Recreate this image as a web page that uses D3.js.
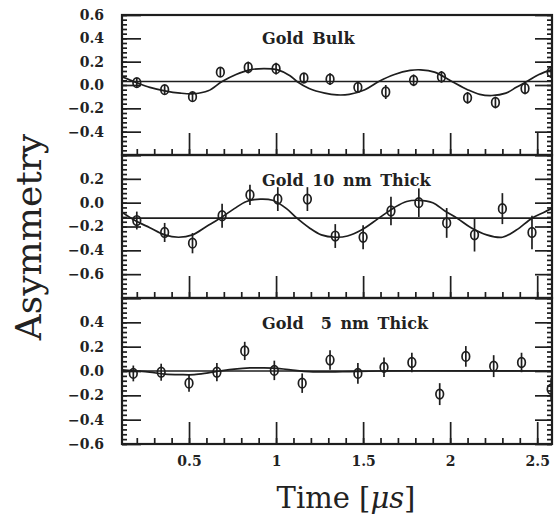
<!DOCTYPE html>
<html><head><meta charset="utf-8">
<script src="https://cdn.jsdelivr.net/npm/d3@7/dist/d3.min.js"></script>
<style>
html,body{margin:0;padding:0;background:#fff;}
svg{display:block;}
text{font-family:"DejaVu Serif",serif;fill:#222;}
</style></head>
<body><svg id="c" width="560" height="519"></svg>
<script>
// ---------------- DATA ----------------
const xTickLabels = [0.5, 1, 1.5, 2, 2.5];

// Gold Bulk
const timeBulk  = [0.20,0.36,0.52,0.68,0.84,1.00,1.16,1.31,1.47,1.63,1.79,1.95,2.10,2.26,2.43,2.58];
const asymBulk  = [0.02,-0.04,-0.10,0.11,0.15,0.14,0.06,0.05,-0.02,-0.06,0.04,0.07,-0.11,-0.15,-0.03,0.11];
const errBulk   = [0.04,0.04,0.04,0.04,0.05,0.05,0.04,0.05,0.04,0.06,0.05,0.05,0.05,0.05,0.05,0.05];
const fitTimeBulk = [0.115,0.20,0.275,0.36,0.45,0.53,0.61,0.69,0.77,0.85,0.93,1.01,1.08,1.12,1.19,1.28,1.35,1.42,1.51,1.59,1.68,1.77,1.83,1.91,2.01,2.10,2.17,2.24,2.32,2.38,2.44,2.51,2.58];
const fitBulk     = [0.07,0.02,-0.02,-0.05,-0.07,-0.075,-0.05,0.03,0.09,0.13,0.14,0.13,0.08,0.03,-0.03,-0.07,-0.085,-0.08,-0.04,0.03,0.09,0.125,0.13,0.11,0.03,-0.04,-0.08,-0.09,-0.07,-0.02,0.03,0.09,0.13];
const baseBulk = 0.03;

// Gold 10 nm
const time10 = [0.20,0.36,0.52,0.69,0.85,1.01,1.18,1.34,1.50,1.66,1.82,1.98,2.14,2.30,2.47];
const asym10 = [-0.15,-0.25,-0.34,-0.11,0.065,0.03,0.03,-0.28,-0.29,-0.07,0.0,-0.17,-0.27,-0.05,-0.25];
const err10  = [0.075,0.08,0.085,0.10,0.085,0.10,0.10,0.10,0.10,0.12,0.12,0.125,0.14,0.13,0.14];
const fitTime10 = [0.115,0.19,0.275,0.36,0.44,0.52,0.60,0.68,0.76,0.83,0.91,0.98,1.06,1.12,1.19,1.26,1.34,1.41,1.49,1.59,1.68,1.75,1.82,1.90,1.97,2.04,2.12,2.21,2.30,2.38,2.47,2.54,2.58];
const fit10     = [-0.08,-0.15,-0.21,-0.27,-0.29,-0.27,-0.20,-0.13,-0.05,0.01,0.03,0.02,-0.05,-0.13,-0.21,-0.27,-0.29,-0.28,-0.23,-0.13,-0.04,0.01,0.02,0.0,-0.07,-0.13,-0.21,-0.27,-0.29,-0.23,-0.13,-0.08,-0.05];
const base10 = -0.13;

// Gold 5 nm
const time5 = [0.18,0.34,0.50,0.66,0.82,0.99,1.15,1.31,1.47,1.62,1.78,1.94,2.09,2.25,2.41,2.58];
const asym5 = [-0.02,-0.01,-0.10,-0.01,0.165,0.005,-0.10,0.09,-0.02,0.03,0.07,-0.19,0.12,0.04,0.07,-0.15];
const err5  = [0.065,0.07,0.07,0.075,0.075,0.08,0.08,0.08,0.085,0.08,0.08,0.09,0.085,0.09,0.08,0.09];
const fitTime5 = [0.115,0.20,0.275,0.36,0.45,0.53,0.61,0.68,0.76,0.85,0.93,1.02,1.11,1.19,1.31,1.42,1.59,1.82,2.58];
const fit5     = [0.01,0.0,-0.01,-0.025,-0.03,-0.03,-0.015,0.0,0.015,0.025,0.025,0.02,0.005,-0.005,-0.008,-0.005,0.0,0.002,0.0];
const base5 = 0.0;

const titles = ["Gold Bulk", "Gold 10 nm Thick", "Gold  5 nm Thick"];
const yLabels1 = [0.6,0.4,0.2,0.0,-0.2,-0.4];
const yLabels2 = [0.2,0.0,-0.2,-0.4,-0.6];
const yLabels3 = [0.4,0.2,0.0,-0.2,-0.4,-0.6];

// ---------------- LAYOUT ----------------
const L = 122, R = 552;
const ink = "#1e1e1e";
const svg = d3.select("#c");
const x = d3.scaleLinear().domain([0.115, 2.585]).range([L, R]);

const panels = [
  {top:15,  bottom:155, dom:[-0.6,0.6], labels:yLabels1, t:timeBulk, a:asymBulk, e:errBulk, ft:fitTimeBulk, f:fitBulk, base:baseBulk, title:titles[0], ty:44},
  {top:155, bottom:298, dom:[-0.8,0.4], labels:yLabels2, t:time10, a:asym10, e:err10, ft:fitTime10, f:fit10, base:base10, title:titles[1], ty:186},
  {top:298, bottom:444, dom:[-0.6,0.6], labels:yLabels3, t:time5, a:asym5, e:err5, ft:fitTime5, f:fit5, base:base5, title:titles[2], ty:329}
];

const fmt = d => d3.format(".1f")(d);
const xMinor = d3.range(0.2, 2.551, 0.1);

panels.forEach((p, i) => {
  const y = d3.scaleLinear().domain(p.dom).range([p.bottom, p.top]);
  const g = svg.append("g");
  const clipId = "clip" + i;
  svg.append("clipPath").attr("id", clipId).append("rect")
    .attr("x", L).attr("y", p.top).attr("width", R - L).attr("height", p.bottom - p.top);

  const yMinor = d3.range(p.dom[0], p.dom[1] + 1e-6, 0.04);
  const yMajor = d3.range(p.dom[0], p.dom[1] + 1e-6, 0.2);

  const styleAxis = s => { s.select(".domain").remove(); s.selectAll("line").attr("stroke", ink).attr("stroke-width", 1.7); s.selectAll("text").remove(); };

  // left ticks (inward)
  g.append("g").attr("transform", `translate(${L},0)`).call(d3.axisRight(y).tickValues(yMinor).tickSize(5)).call(styleAxis);
  g.append("g").attr("transform", `translate(${L},0)`).call(d3.axisRight(y).tickValues(yMajor).tickSize(19)).call(styleAxis);
  // right ticks (inward)
  g.append("g").attr("transform", `translate(${R},0)`).call(d3.axisLeft(y).tickValues(yMinor).tickSize(5)).call(styleAxis);
  g.append("g").attr("transform", `translate(${R},0)`).call(d3.axisLeft(y).tickValues(yMajor).tickSize(17)).call(styleAxis);
  // bottom ticks (upward)
  g.append("g").attr("transform", `translate(0,${p.bottom})`).call(d3.axisTop(x).tickValues(xMinor).tickSize(6)).call(styleAxis);
  g.append("g").attr("transform", `translate(0,${p.bottom})`).call(d3.axisTop(x).tickValues(xTickLabels).tickSize(22)).call(styleAxis);

  // y tick labels
  const yl = g.append("g").attr("transform", `translate(${L},0)`)
    .call(d3.axisLeft(y).tickValues(p.labels).tickSize(0).tickPadding(18).tickFormat(fmt));
  yl.select(".domain").remove();
  yl.selectAll("text").attr("font-family", "DejaVu Serif").attr("font-weight", "bold").attr("font-size", 14).attr("fill", ink);

  // frame
  g.append("rect").attr("x", L).attr("y", p.top).attr("width", R - L).attr("height", p.bottom - p.top)
    .attr("fill", "none").attr("stroke", ink).attr("stroke-width", 2.2);

  const plot = g.append("g").attr("clip-path", `url(#${clipId})`);
  // baseline
  plot.append("line").attr("x1", L).attr("x2", R).attr("y1", y(p.base)).attr("y2", y(p.base))
    .attr("stroke", ink).attr("stroke-width", 1.7);
  // fit curve
  const line = d3.line().x(d => x(d[0])).y(d => y(d[1])).curve(d3.curveCatmullRom);
  plot.append("path").attr("d", line(p.ft.map((t, k) => [t, p.f[k]])))
    .attr("fill", "none").attr("stroke", ink).attr("stroke-width", 1.7);
  // points
  const pts = plot.selectAll("g.pt").data(p.t.map((t, k) => ({t, a:p.a[k], e:p.e[k]}))).enter().append("g");
  pts.append("line").attr("x1", d => x(d.t)).attr("x2", d => x(d.t))
    .attr("y1", d => y(d.a - d.e)).attr("y2", d => y(d.a + d.e)).attr("stroke", ink).attr("stroke-width", 1.7);
  pts.append("ellipse").attr("cx", d => x(d.t)).attr("cy", d => y(d.a)).attr("rx", 3.8).attr("ry", 4.8)
    .attr("fill", "none").attr("stroke", ink).attr("stroke-width", 1.7);

  // title
  g.append("text").attr("x", 262).attr("y", p.ty).attr("font-size", 16).attr("font-weight", "bold")
    .attr("word-spacing", 3).style("white-space", "pre").text(p.title);
});

// x tick labels
const xl = svg.append("g").attr("transform", `translate(0,444)`)
  .call(d3.axisBottom(x).tickValues(xTickLabels).tickSize(0).tickPadding(12).tickFormat(d => String(d)));
xl.select(".domain").remove();
xl.selectAll("text").attr("font-family", "DejaVu Serif").attr("font-weight", "bold").attr("font-size", 14).attr("fill", ink);

// axis titles
svg.append("text").attr("transform", "translate(41,237) rotate(-90)").attr("text-anchor", "middle")
  .attr("font-size", 36).text("Asymmetry");
const xt = svg.append("text").attr("x", 346).attr("y", 508).attr("text-anchor", "middle").attr("font-size", 29);
xt.append("tspan").text("Time [");
xt.append("tspan").attr("font-style", "italic").text("μs");
xt.append("tspan").text("]");
</script></body></html>
